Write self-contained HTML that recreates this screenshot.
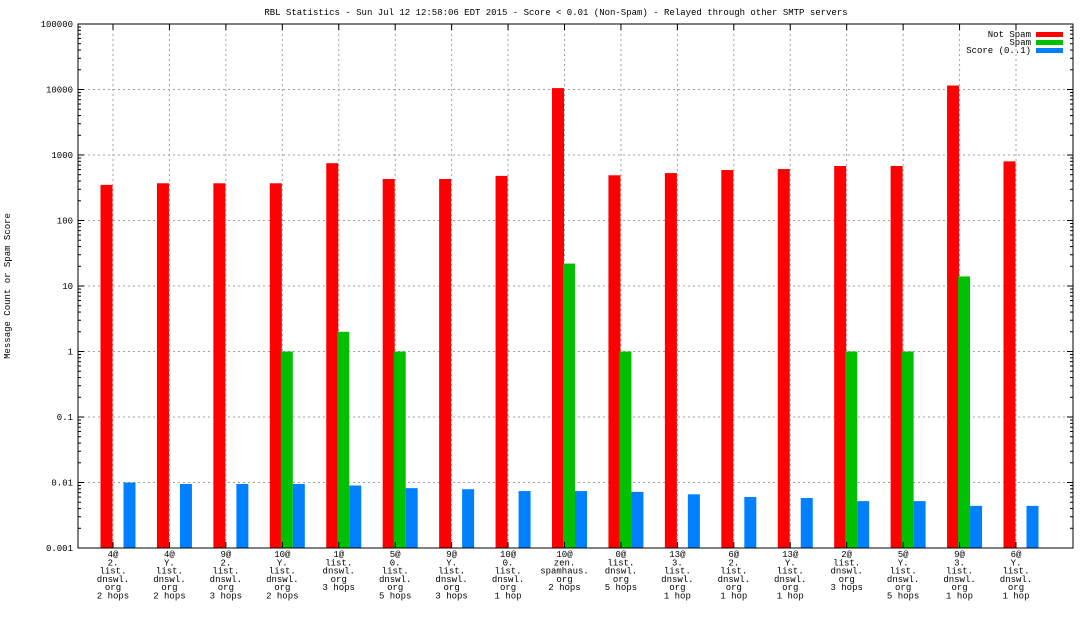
<!DOCTYPE html>
<html><head><meta charset="utf-8"><style>
body{margin:0;background:#fff}
svg text{font-family:"Liberation Mono",monospace;font-size:9px;fill:#000}
</style></head><body>
<svg id="c" width="1088" height="612" xmlns="http://www.w3.org/2000/svg">
<rect width="1088" height="612" fill="#fff"/>
<text x="556" y="15" text-anchor="middle">RBL Statistics - Sun Jul 12 12:58:06 EDT 2015 - Score &lt; 0.01 (Non-Spam) - Relayed through other SMTP servers</text>
<text transform="translate(10,286) rotate(-90)" text-anchor="middle">Message Count or Spam Score</text>
<g id="grid"></g><g id="bars"></g><g id="axes"></g>
<g>
<text x="1031" y="37" text-anchor="end">Not Spam</text><rect x="1036" y="32" width="27" height="5" fill="#ff0000"/>
<text x="1031" y="45" text-anchor="end">Spam</text><rect x="1036" y="40" width="27" height="5" fill="#00c000"/>
<text x="1031" y="53" text-anchor="end">Score (0..1)</text><rect x="1036" y="48" width="27" height="5" fill="#0080ff"/>
</g>
</svg>
<script>
const categories=[
["4@","2.","list.","dnswl.","org","2 hops"],["4@","Y.","list.","dnswl.","org","2 hops"],["9@","2.","list.","dnswl.","org","3 hops"],["10@","Y.","list.","dnswl.","org","2 hops"],["1@","list.","dnswl.","org","3 hops"],["5@","0.","list.","dnswl.","org","5 hops"],["9@","Y.","list.","dnswl.","org","3 hops"],["10@","0.","list.","dnswl.","org","1 hop"],["10@","zen.","spamhaus.","org","2 hops"],["0@","list.","dnswl.","org","5 hops"],["13@","3.","list.","dnswl.","org","1 hop"],["6@","2.","list.","dnswl.","org","1 hop"],["13@","Y.","list.","dnswl.","org","1 hop"],["2@","list.","dnswl.","org","3 hops"],["5@","Y.","list.","dnswl.","org","5 hops"],["9@","3.","list.","dnswl.","org","1 hop"],["6@","Y.","list.","dnswl.","org","1 hop"]];
const notSpam=[350,370,370,370,750,430,430,480,10500,490,530,590,610,680,680,11500,800];
const spam=[0,0,0,1,2,1,0,0,22,1,0,0,0,1,1,14,0];
const score=[0.0100,0.0095,0.0095,0.0095,0.0090,0.0082,0.0079,0.0074,0.0074,0.0072,0.0066,0.0060,0.0058,0.0052,0.0052,0.0044,0.0044];
const yTicks=[0.001,0.01,0.1,1,10,100,1000,10000,100000];
const yTickLabels=["0.001","0.01","0.1","1","10","100","1000","10000","100000"];
const L=78,R=1073,T=24,B=548,NS="http://www.w3.org/2000/svg";
const y=v=>B-(Math.log10(v)+3)/8*(B-T);
const x=i=>113+i*(1016-113)/(categories.length-1);
function mk(p,t,a){const e=document.createElementNS(NS,t);for(const k in a)e.setAttribute(k,a[k]);document.getElementById(p).appendChild(e);return e;}
yTicks.forEach((v,i)=>{
 const g=mk('grid','line',{x1:L,x2:R,y1:y(v),y2:y(v),stroke:'#a0a0a0','stroke-dasharray':'2,3'});
 
 
 const t=mk('axes','text',{x:73,y:y(v)+3,'text-anchor':'end'});t.textContent=yTickLabels[i];
 
 
 mk('axes','line',{x1:L,x2:L+6,y1:y(v),y2:y(v),stroke:'#000'});
 mk('axes','line',{x1:R,x2:R-6,y1:y(v),y2:y(v),stroke:'#000'});
 if(i<yTicks.length-1)for(let m=2;m<10;m++){const yy=y(v*m);
  mk('axes','line',{x1:L,x2:L+3,y1:yy,y2:yy,stroke:'#000'});mk('axes','line',{x1:R,x2:R-3,y1:yy,y2:yy,stroke:'#000'});}
});
categories.forEach((c,i)=>{
 const cx=x(i);
 const g=mk('grid','line',{x1:cx,x2:cx,y1:T,y2:B,stroke:'#a0a0a0','stroke-dasharray':'2,3'});
 
 
 mk('axes','line',{x1:cx,x2:cx,y1:B,y2:B-6,stroke:'#000'});
 mk('axes','line',{x1:cx,x2:cx,y1:T,y2:T+6,stroke:'#000'});
 c.forEach((s,j)=>{const t=mk('axes','text',{x:cx,y:557+j*8.3,'text-anchor':'middle'});t.textContent=s;
  
  });
 const series=[[notSpam[i],'#ff0000',-12.5,'bar-not-spam'],[spam[i],'#00c000',-1.5,'bar-spam'],[score[i],'#0080ff',10.5,'bar-score']];
 series.forEach(([v,col,off,nm])=>{if(v>0){const r=mk('bars','rect',{x:cx+off,y:y(v),width:12,height:B-y(v),fill:col});
  
  }});
});
mk('axes','rect',{x:L,y:T,width:R-L,height:B-T,fill:'none',stroke:'#000'});
</script>
</body></html>
